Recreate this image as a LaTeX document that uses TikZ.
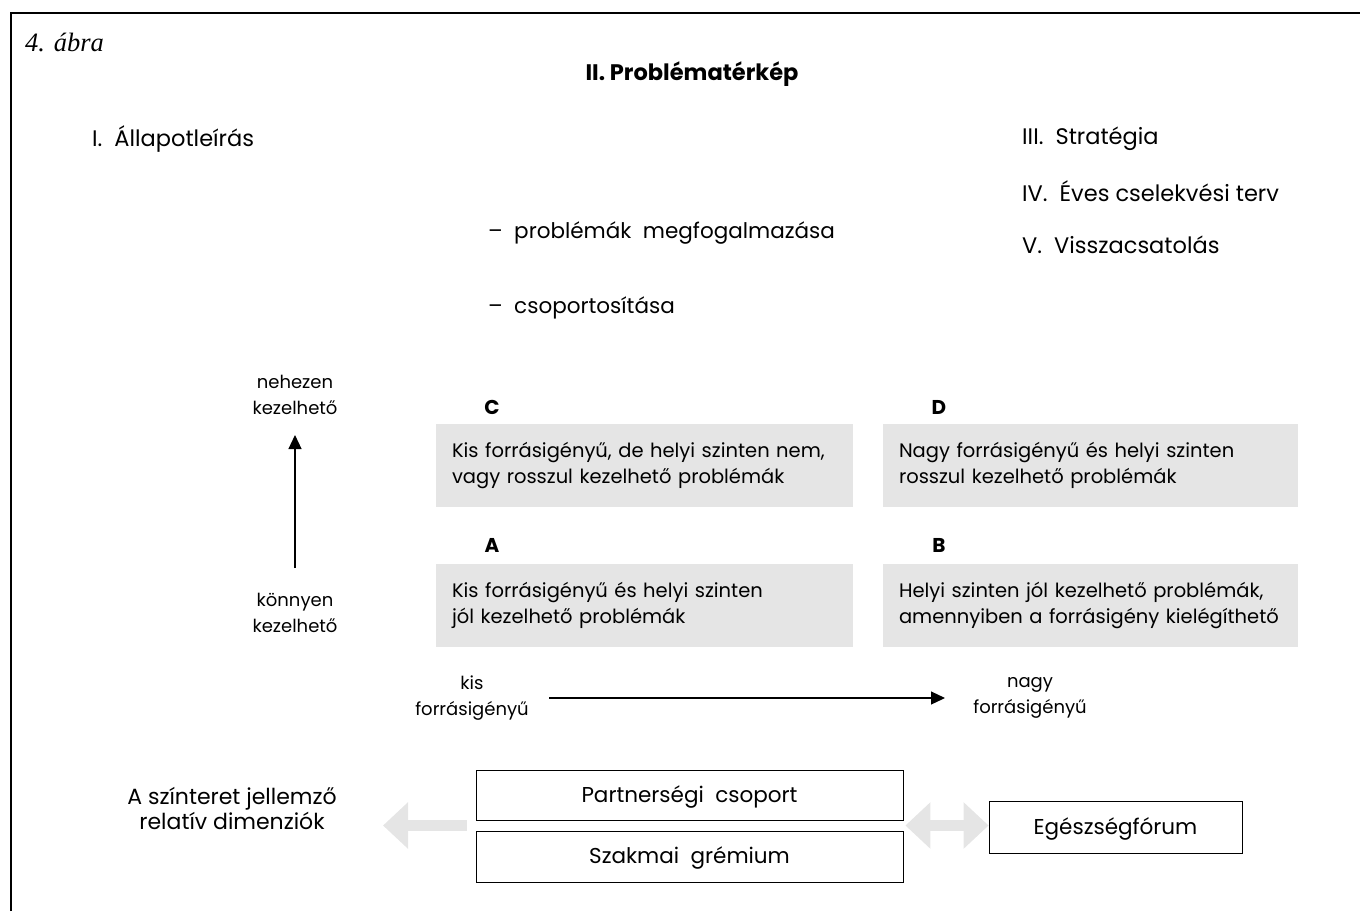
\documentclass[tikz,border=0pt]{standalone}
\usepackage{fontspec}
\setmainfont{Poppins}
\newfontfamily\captionfont{Liberation Serif}
\usetikzlibrary{arrows.meta,calc}

\begin{document}
\begin{tikzpicture}[x=1pt,y=-1pt,
  every node/.style={font=\fontsize{19.5}{26}\selectfont},
  txt/.style={anchor=west,inner sep=0pt,font=\fontsize{22.5}{26}\selectfont},
  cell/.style={fill=black!10,minimum height=83pt,text width=385pt,align=left,inner xsep=16pt},
  letter/.style={font=\fontsize{20}{22}\selectfont\bfseries},
  pair/.style={align=center,font=\fontsize{18}{25.5}\selectfont},
  frame/.style={draw,line width=0.8pt,minimum height=50pt,text height=19pt,text depth=5pt,font=\fontsize{21.5}{24}\selectfont},
  axis/.style={line width=1.2pt,-{Triangle[width=13pt,length=14pt]}},
  fat/.style={line width=11pt,black!10,-{Triangle[width=45pt,length=25pt]}}
]
\useasboundingbox (0,0) rectangle (1360,911);
\draw[line width=2.5pt] (11,911) -- (11,13) -- (1362,13);

% headings
\node[txt,font=\captionfont\itshape\fontsize{26.5}{28}\selectfont] (fig) at (25,42) {4. ábra};
\node[font=\bfseries\fontsize{22.5}{26}\selectfont] (title) at (692,74) {II. Problématérkép};
\node[txt] (state) at (92,139) {I.\ \ Állapotleírás};
\node[txt] (strat) at (1022,139) {III.\ \ Stratégia};
\node[txt] (plan) at (1022,191) {IV.\ \ Éves\ cselekvési\ terv};
\node[txt] (feed) at (1022,245) {V.\ \ Visszacsatolás};
\node[txt,font=\fontsize{21.5}{26}\selectfont] (define) at (488,233) {–\ \ problémák\ \ megfogalmazása};
\node[txt,font=\fontsize{21.5}{26}\selectfont] (group) at (488,308) {–\ \ csoportosítása};

% problem map
\node[cell] (C) at (644.5,465.5) {Kis\ forrásigényű,\ de\ helyi\ szinten\ nem,\\vagy\ rosszul\ kezelhető\ problémák};
\node[cell,text width=383pt] (D) at (1090.5,465.5) {Nagy\ forrásigényű\ és\ helyi\ szinten\\rosszul\ kezelhető\ problémák};
\node[cell] (A) at (644.5,605.5) {Kis\ forrásigényű\ és\ helyi\ szinten\\jól\ kezelhető\ problémák};
\node[cell,text width=383pt] (B) at (1090.5,605.5) {Helyi\ szinten\ jól\ kezelhető\ problémák,\\amennyiben\ a\ forrásigény\ kielégíthető};
\node[letter] (lC) at (492,407) {C};
\node[letter] (lD) at (939,407) {D};
\node[letter] (lA) at (492,545) {A};
\node[letter] (lB) at (939,545) {B};

% axes
\node[pair] (hard) at (295,395) {nehezen\\kezelhető};
\node[pair] (easy) at (295,613) {könnyen\\kezelhető};
\node[pair] (low) at (472,698) {kis\\forrásigényű};
\node[pair] (high) at (1030,698) {nagy\\forrásigényű};
\draw[axis] (easy.north |- 0,568) -- (hard.south |- 0,435);
\draw[axis] (549,0 |- low) -- (945,0 |- high);

% actors
\node[frame,minimum width=427pt] (partner) at (689.5,795) {Partnerségi\ \ csoport};
\node[frame,minimum width=427pt,minimum height=51pt] (board) at (689.5,856.5) {Szakmai\ \ grémium};
\node[frame,minimum width=253pt,minimum height=52pt] (forum) at (1115.5,827) {Egészségfórum};
\node[pair,font=\fontsize{22}{25}\selectfont] (dims) at (232,808) {A\ színteret\ jellemző\\relatív\ dimenziók};
\coordinate (left) at ($(partner.south west)!.5!(board.north west)$);
\coordinate (right) at ($(partner.south east)!.5!(board.north east)$);
\coordinate (tip) at (383,0 |- left);
\draw[fat] ([xshift=-9pt]left) -- (tip);
\draw[fat,{Triangle[width=45pt,length=25pt]}-{Triangle[width=45pt,length=25pt]}] ([xshift=2pt]right) -- (forum.west |- right);
\end{tikzpicture}
\end{document}
